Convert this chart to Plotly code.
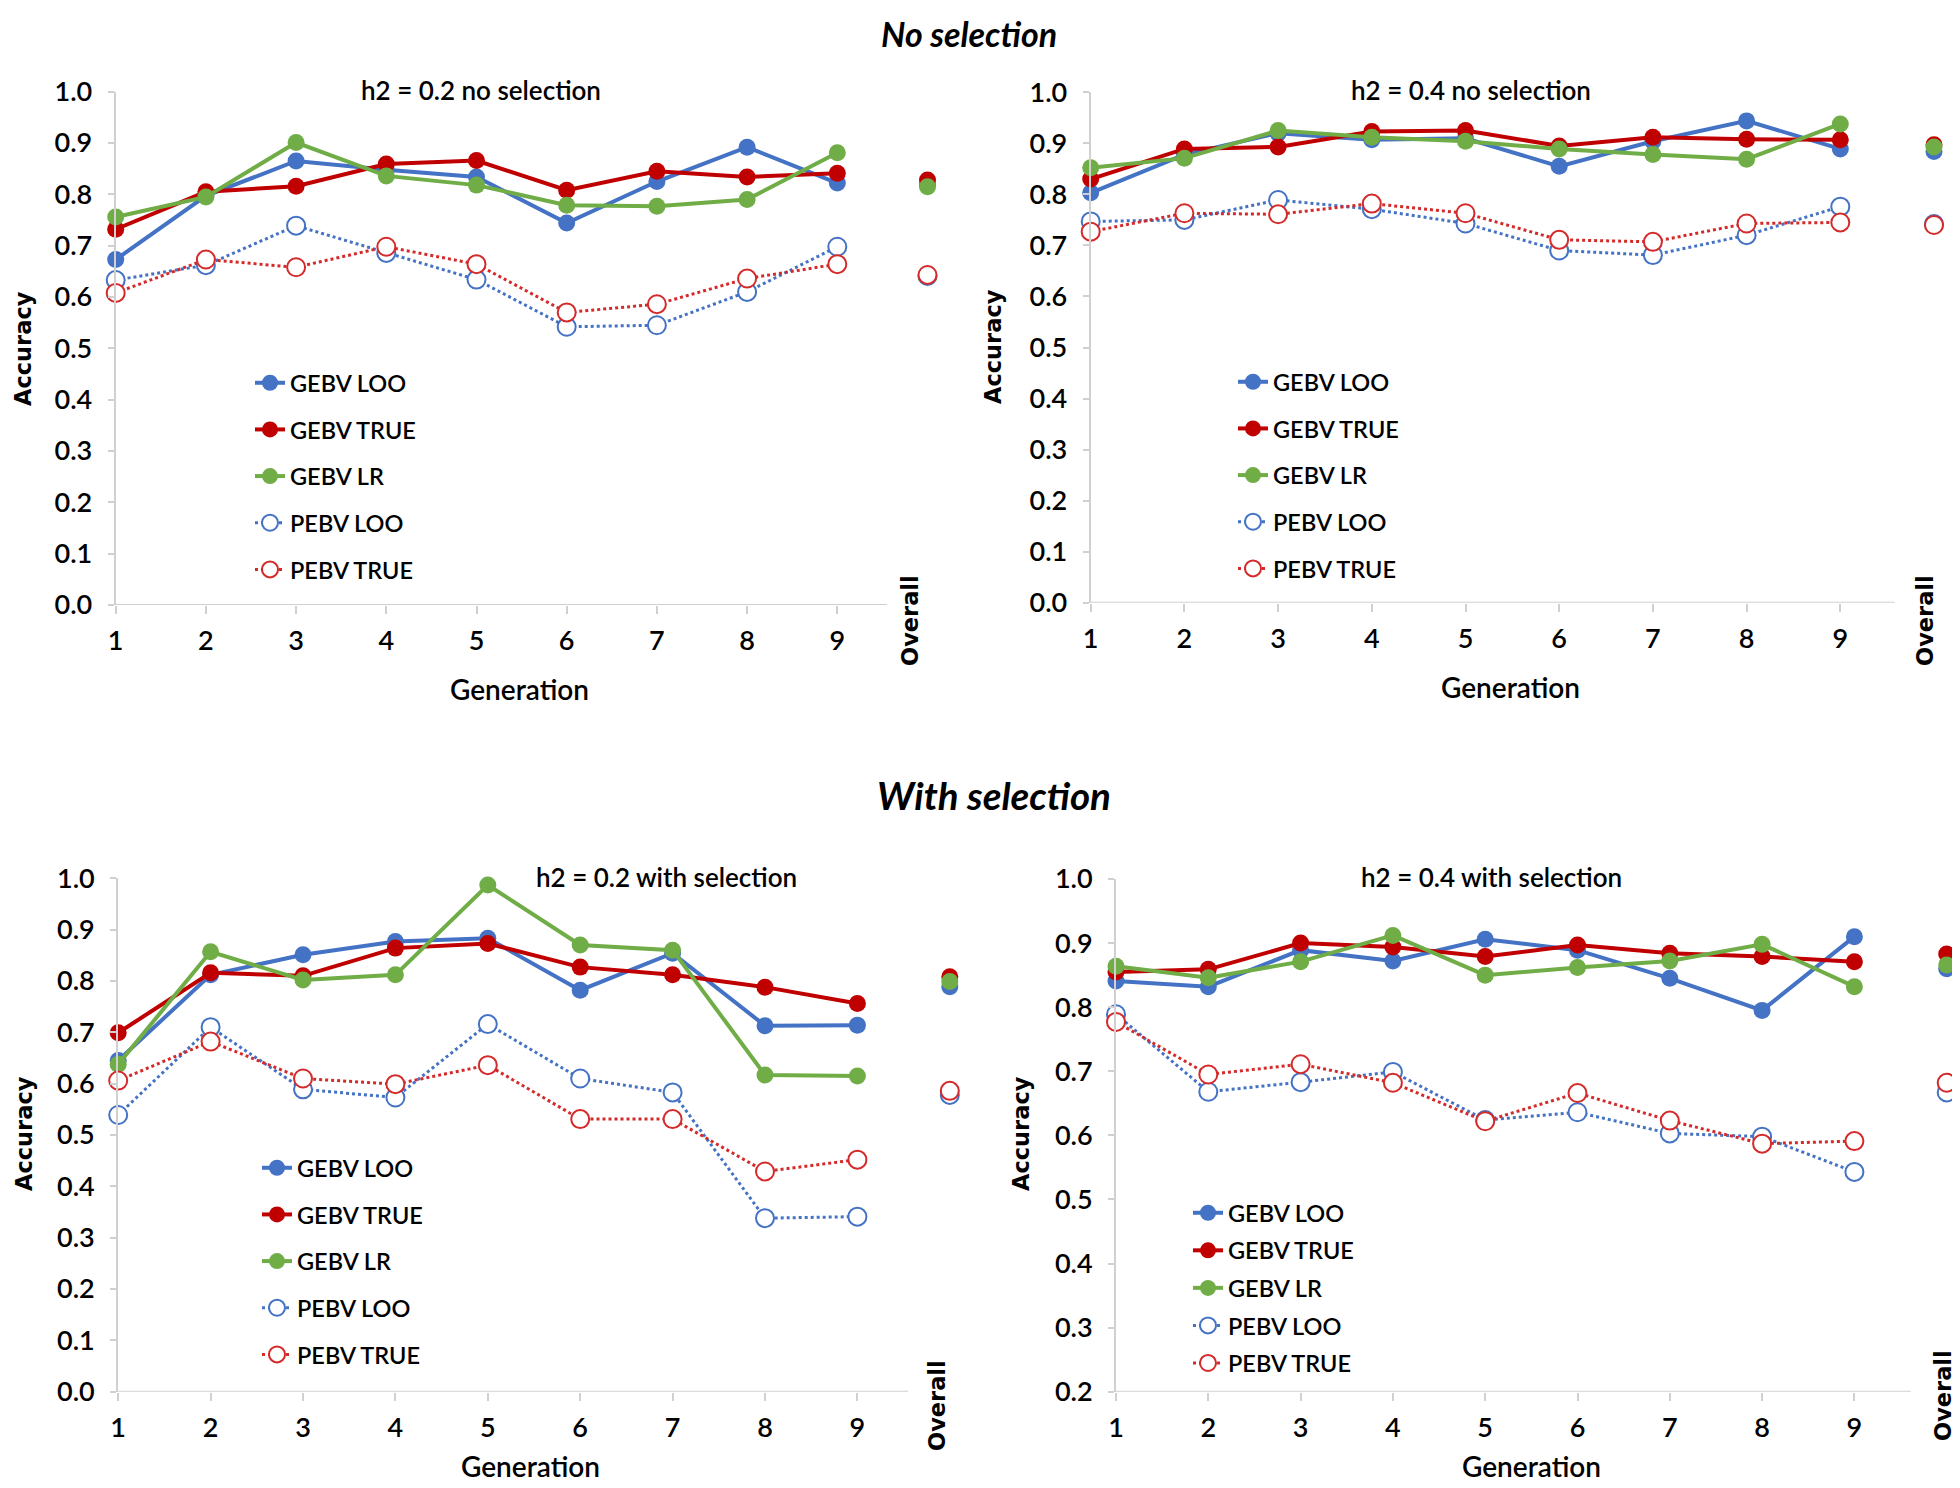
import plotly.graph_objects as go

# ---------------- data ----------------
GENERATIONS = [1, 2, 3, 4, 5, 6, 7, 8, 9]
SERIES_NAMES = ["GEBV LOO", "GEBV TRUE", "GEBV LR", "PEBV LOO", "PEBV TRUE"]
PANEL_TITLES = ["h2 = 0.2 no selection", "h2 = 0.4 no selection",
                "h2 = 0.2 with selection", "h2 = 0.4 with selection"]
SECTION_TITLES = ["No selection", "With selection"]
OVERALL_LABEL = "Overall"

# values for generations 1..9 ; overall value separately
# panel 1 : h2 = 0.2, no selection
P1_GEBV_LOO = [0.673, 0.797, 0.865, 0.848, 0.834, 0.744, 0.825, 0.892, 0.822]
P1_GEBV_TRUE = [0.732, 0.805, 0.816, 0.859, 0.866, 0.808, 0.845, 0.834, 0.841]
P1_GEBV_LR = [0.756, 0.795, 0.901, 0.836, 0.818, 0.779, 0.777, 0.790, 0.881]
P1_PEBV_LOO = [0.633, 0.662, 0.739, 0.686, 0.634, 0.542, 0.545, 0.610, 0.698]
P1_PEBV_TRUE = [0.608, 0.673, 0.658, 0.698, 0.664, 0.570, 0.586, 0.636, 0.664]
P1_OVERALL = [0.818, 0.828, 0.815, 0.641, 0.643]

# panel 2 : h2 = 0.4, no selection
P2_GEBV_LOO = [0.803, 0.878, 0.920, 0.907, 0.910, 0.855, 0.904, 0.944, 0.889]
P2_GEBV_TRUE = [0.830, 0.889, 0.893, 0.923, 0.925, 0.895, 0.912, 0.908, 0.907]
P2_GEBV_LR = [0.852, 0.871, 0.925, 0.912, 0.904, 0.889, 0.878, 0.869, 0.938]
P2_PEBV_LOO = [0.747, 0.750, 0.789, 0.771, 0.743, 0.690, 0.681, 0.720, 0.776]
P2_PEBV_TRUE = [0.727, 0.763, 0.761, 0.782, 0.763, 0.711, 0.707, 0.743, 0.745]
P2_OVERALL = [0.884, 0.897, 0.893, 0.742, 0.740]

# panel 3 : h2 = 0.2, with selection
P3_GEBV_LOO = [0.645, 0.812, 0.851, 0.877, 0.883, 0.782, 0.854, 0.713, 0.714]
P3_GEBV_TRUE = [0.699, 0.816, 0.810, 0.864, 0.873, 0.827, 0.812, 0.788, 0.756]
P3_GEBV_LR = [0.638, 0.857, 0.802, 0.812, 0.987, 0.870, 0.860, 0.617, 0.615]
P3_PEBV_LOO = [0.539, 0.710, 0.589, 0.573, 0.716, 0.610, 0.583, 0.338, 0.341]
P3_PEBV_TRUE = [0.606, 0.682, 0.610, 0.599, 0.636, 0.531, 0.531, 0.429, 0.452]
P3_OVERALL = [0.789, 0.808, 0.799, 0.578, 0.586]

# panel 4 : h2 = 0.4, with selection
P4_GEBV_LOO = [0.841, 0.832, 0.889, 0.872, 0.906, 0.889, 0.845, 0.795, 0.910]
P4_GEBV_TRUE = [0.855, 0.859, 0.900, 0.894, 0.879, 0.897, 0.884, 0.879, 0.871]
P4_GEBV_LR = [0.864, 0.846, 0.871, 0.912, 0.850, 0.862, 0.872, 0.898, 0.832]
P4_PEBV_LOO = [0.789, 0.668, 0.683, 0.699, 0.624, 0.636, 0.603, 0.598, 0.543]
P4_PEBV_TRUE = [0.777, 0.695, 0.711, 0.682, 0.622, 0.666, 0.623, 0.587, 0.591]
P4_OVERALL = [0.860, 0.883, 0.866, 0.667, 0.682]

PANEL_DATA = [
    [P1_GEBV_LOO, P1_GEBV_TRUE, P1_GEBV_LR, P1_PEBV_LOO, P1_PEBV_TRUE],
    [P2_GEBV_LOO, P2_GEBV_TRUE, P2_GEBV_LR, P2_PEBV_LOO, P2_PEBV_TRUE],
    [P3_GEBV_LOO, P3_GEBV_TRUE, P3_GEBV_LR, P3_PEBV_LOO, P3_PEBV_TRUE],
    [P4_GEBV_LOO, P4_GEBV_TRUE, P4_GEBV_LR, P4_PEBV_LOO, P4_PEBV_TRUE],
]
PANEL_OVERALL = [P1_OVERALL, P2_OVERALL, P3_OVERALL, P4_OVERALL]
Y_MIN = [0.0, 0.0, 0.0, 0.2]
Y_MAX = 1.0
OVERALL_POS = 10

# ---------------- styles / layout ----------------
W, H = 1960, 1488
OFF = 8  # page offset of the plot div (body margin)
BLUE, RED, GREEN, RED2 = "#4472C4", "#C00000", "#70AD47", "#D42A2A"
AXIS_GRAY = "#D0D0D0"
FONT = "Lato, 'Open Sans', sans-serif"
BOLDFONT = "'DejaVu Sans', Verdana, sans-serif"
TXT_WEIGHT = 600

STYLE = [
    dict(color=BLUE, dash="solid", open=False),
    dict(color=RED, dash="solid", open=False),
    dict(color=GREEN, dash="solid", open=False),
    dict(color=BLUE, dash="dot", open=True),
    dict(color=RED2, dash="dot", open=True),
]

# pixel geometry per panel (page pixels): x of generation 1, spacing, y of top / bottom
GEOM = [
    dict(x1=115.7, sp=90.2, ytop=91.7, ybot=605.0, xline_end=9.55),
    dict(x1=1090.7, sp=93.7, ytop=92.3, ybot=602.7, xline_end=9.58),
    dict(x1=118.2, sp=92.4, ytop=878.3, ybot=1391.7, xline_end=9.55),
    dict(x1=1116.0, sp=92.3, ytop=879.0, ybot=1391.7, xline_end=9.61),
]
LEGEND_POS = [(250, 361, 13.1), (1233, 360, 13.1), (257, 1146, 13.1), (1188, 1191, 4.0)]
TITLE_POS = [(481, 90), (1471, 90), (666, 877), (1491, 877)]
ACC_POS = [(23, 349), (993, 347), (24, 1134), (1021, 1134)]
OVR_POS = [(910, 621), (1925, 621), (937, 1406), (1943, 1396)]
GEN_POS = [(519, 689), (1510, 687), (530, 1466), (1531, 1466)]
SECTION_POS = [(969, 33), (994, 795)]
SECTION_SIZE = [34, 38.5]


def px(x):
    return (x - OFF) / W


def py(y):
    return 1 - (y - OFF) / H


fig = go.Figure()
layout = dict(width=W, height=H, template="none",
              margin=dict(l=0, r=0, t=0, b=0, pad=0, autoexpand=False),
              paper_bgcolor="white", plot_bgcolor="white", showlegend=True,
              font=dict(family=FONT, color="black"))
annotations = []
shapes = []


def ann(text, x, y, size, family=FONT, angle=0, weight=TXT_WEIGHT):
    return dict(text=text, x=px(x), y=py(y), xref="paper", yref="paper",
                xanchor="center", yanchor="middle", showarrow=False, textangle=angle,
                font=dict(family=family, size=size, color="black", weight=weight))


for p in range(4):
    g = GEOM[p]
    sfx = "" if p == 0 else str(p + 1)
    xa, ya = "x" + sfx, "y" + sfx
    leg = "legend" if p == 0 else "legend" + str(p + 1)
    xend = min(10.25, 1 + (W + OFF - g["x1"]) / g["sp"])
    xr_px = g["x1"] + (xend - 1) * g["sp"]
    for s in range(5):
        st = STYLE[s]
        if st["open"]:
            marker = dict(symbol="circle", size=18, color="white",
                          line=dict(color=st["color"], width=2))
            line = dict(color=st["color"], width=3, dash="dot")
        else:
            marker = dict(symbol="circle", size=17, color=st["color"],
                          line=dict(color=st["color"], width=0))
            line = dict(color=st["color"], width=4)
        fig.add_trace(go.Scatter(
            x=GENERATIONS, y=PANEL_DATA[p][s], mode="lines+markers",
            name=SERIES_NAMES[s], line=line, marker=marker,
            xaxis=xa, yaxis=ya, legend=leg, legendgroup=f"p{p}s{s}",
            cliponaxis=False))
        fig.add_trace(go.Scatter(
            x=[OVERALL_POS], y=[PANEL_OVERALL[p][s]], mode="markers",
            name=SERIES_NAMES[s], marker=marker, showlegend=False,
            xaxis=xa, yaxis=ya, legend=leg, legendgroup=f"p{p}s{s}",
            cliponaxis=False))

    lay_x = "xaxis" if p == 0 else "xaxis" + str(p + 1)
    lay_y = "yaxis" if p == 0 else "yaxis" + str(p + 1)
    layout[lay_x] = dict(
        domain=[px(g["x1"]), min(1.0, px(xr_px))], range=[1, xend], anchor=ya, automargin=False,
        tickvals=GENERATIONS, ticktext=[str(v) for v in GENERATIONS],
        ticks="outside", ticklen=8, tickwidth=2, tickcolor=AXIS_GRAY, ticklabelstandoff=4,
        showline=False, showgrid=False, zeroline=False,
        tickfont=dict(family=FONT, size=27, color="black", weight=TXT_WEIGHT))
    layout[lay_y] = dict(
        domain=[py(g["ybot"]), py(g["ytop"])], range=[Y_MIN[p], Y_MAX], anchor=xa,
        automargin=False, dtick=0.1, tick0=0, tickformat=".1f",
        ticks="outside", ticklen=6, tickwidth=2, tickcolor=AXIS_GRAY, ticklabelstandoff=10,
        showline=True, linecolor=AXIS_GRAY, linewidth=2,
        showgrid=False, zeroline=False,
        tickfont=dict(family=FONT, size=27, color="black", weight=TXT_WEIGHT))
    shapes.append(dict(type="line", xref=xa, yref=ya, x0=1, x1=g["xline_end"],
                       y0=Y_MIN[p], y1=Y_MIN[p], line=dict(color=AXIS_GRAY, width=2),
                       layer="below"))

    lx, ly, gap = LEGEND_POS[p]
    layout[leg] = dict(x=px(lx), y=py(ly), xanchor="left", yanchor="top",
                       bgcolor="rgba(0,0,0,0)", borderwidth=0,
                       font=dict(family=FONT, size=23.5, color="black", weight=TXT_WEIGHT),
                       tracegroupgap=gap, traceorder="grouped")

    tx, ty = TITLE_POS[p]
    annotations.append(ann(PANEL_TITLES[p], tx, ty, 26))
    ax_, ay_ = ACC_POS[p]
    annotations.append(ann("<b>Accuracy</b>", ax_, ay_, 22.5, BOLDFONT, -90, "bold"))
    ox, oy = OVR_POS[p]
    annotations.append(ann("<b>" + OVERALL_LABEL + "</b>", ox, oy, 22.5, BOLDFONT, -90, "bold"))
    gx, gy = GEN_POS[p]
    annotations.append(ann("Generation", gx, gy, 28))

for i in range(2):
    sx, sy = SECTION_POS[i]
    annotations.append(ann("<b><i>" + SECTION_TITLES[i] + "</i></b>", sx, sy,
                           SECTION_SIZE[i], FONT, 0, "bold"))

layout["annotations"] = annotations
layout["shapes"] = shapes
fig.update_layout(**layout)
fig.write_html("out.html")
